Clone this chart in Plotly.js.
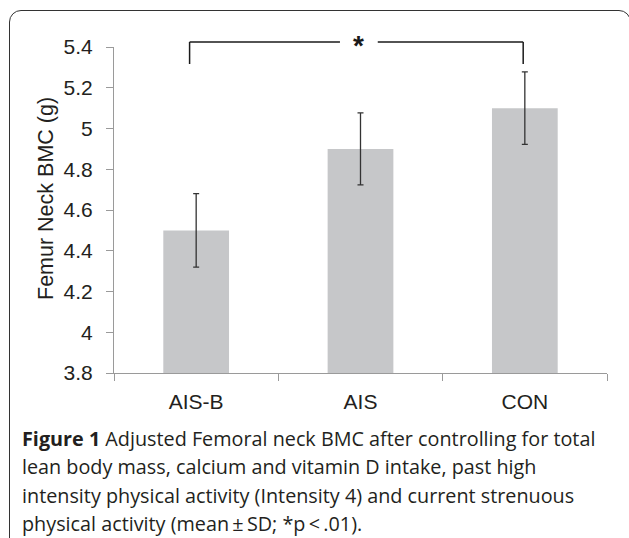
<!DOCTYPE html>
<html><head><meta charset="utf-8">
<script src="https://cdn.plot.ly/plotly-3.0.1.min.js"></script>
<style>
html,body{margin:0;padding:0;background:#fff;overflow:hidden;}
#wrap{position:relative;width:629px;height:538px;overflow:hidden;}
#chart{position:absolute;left:0;top:0;width:629px;height:538px;}
#frame{position:absolute;left:9px;top:10px;width:622px;height:560px;border:1.5px solid #333;border-radius:12px;pointer-events:none;box-sizing:border-box;}
</style></head><body>
<div id="wrap"><div id="chart"></div><div id="frame"></div></div>
<script>
// ---- data ----
const categories = ['AIS-B', 'AIS', 'CON'];
const means = [4.5, 4.9, 5.1];
const sds = [0.18, 0.177, 0.178];
const yTickVals = [3.8, 4, 4.2, 4.4, 4.6, 4.8, 5, 5.2, 5.4];
const yTickText = ['3.8', '4', '4.2', '4.4', '4.6', '4.8', '5', '5.2', '5.4'];
const bracketPair = [-0.04, 1.99];   // category index positions of bracket ends
const sigLabel = '*';
const yTitle = 'Femur Neck BMC (g)';
const captionLines = [
  '<b>Figure 1</b> Adjusted Femoral neck BMC after controlling for total',
  'lean body mass, calcium and vitamin D intake, past high',
  'intensity physical activity (Intensity 4) and current strenuous',
  'physical activity (mean\u2009±\u2009SD; *p\u2009&lt;\u2009.01).'
];

// ---- layout helpers ----
const W = 629, H = 538;
const M = {l: 114, r: 22, t: 47, b: 165};
const pw = W - M.l - M.r, ph = H - M.t - M.b;
const px = x => (x - M.l) / pw;
const py = y => (H - M.b - y) / ph;

const axFont = {family: 'Liberation Sans, Arial, sans-serif', size: 21, color: '#231f20'};
const capFont = {family: 'Open Sans, sans-serif', size: 19.8, color: '#231f20'};

const trace = {
  type: 'bar',
  x: categories,
  y: means,
  width: 0.4,
  marker: {color: '#c6c7c9', line: {width: 0}},
  error_y: {type: 'data', array: sds, visible: true, color: '#333333', thickness: 1.3, width: 3},
  hoverinfo: 'skip'
};

const bracketTop = py(42), bracketBot = py(64);
const starX = 0.99, gapHalf = 0.115;
const lineStyle = {color: '#1a1a1a', width: 1.5};
const shapes = [
  {type: 'line', xref: 'x', yref: 'paper', x0: bracketPair[0], x1: bracketPair[0], y0: bracketBot, y1: bracketTop, line: lineStyle},
  {type: 'line', xref: 'x', yref: 'paper', x0: bracketPair[0], x1: starX - gapHalf, y0: bracketTop, y1: bracketTop, line: lineStyle},
  {type: 'line', xref: 'x', yref: 'paper', x0: starX + gapHalf, x1: bracketPair[1], y0: bracketTop, y1: bracketTop, line: lineStyle},
  {type: 'line', xref: 'x', yref: 'paper', x0: bracketPair[1], x1: bracketPair[1], y0: bracketBot, y1: bracketTop, line: lineStyle}
];

const annotations = [
  {xref: 'x', yref: 'paper', x: starX, y: py(45), text: '<b>' + sigLabel + '</b>', showarrow: false,
   xanchor: 'center', yanchor: 'middle', font: {family: 'Liberation Sans, Arial, sans-serif', size: 28, color: '#1a1a1a'}},
  {xref: 'paper', yref: 'paper', x: px(46), y: py(199), text: yTitle, showarrow: false, textangle: -90,
   xanchor: 'center', yanchor: 'middle', font: {family: 'Liberation Sans, Arial, sans-serif', size: 21.5, color: '#231f20'}}
];
const capY = [438, 466.5, 495, 523.5];
captionLines.forEach((t, i) => annotations.push({
  xref: 'paper', yref: 'paper', x: px(20), y: py(capY[i]), text: t, showarrow: false,
  xanchor: 'left', yanchor: 'middle', align: 'left', font: capFont
}));

const layout = {
  width: W, height: H,
  margin: M,
  paper_bgcolor: '#ffffff', plot_bgcolor: '#ffffff',
  showlegend: false,
  bargap: 0.6,
  xaxis: {
    type: 'category', range: [-0.5, 2.5], tickson: 'boundaries',
    ticks: 'outside', ticklen: 7, tickcolor: '#9a9a9a', tickwidth: 1,
    showline: true, linecolor: '#9a9a9a', linewidth: 1,
    showgrid: false, zeroline: false, tickfont: axFont, ticklabelstandoff: 10,
    fixedrange: true
  },
  yaxis: {
    range: [3.8, 5.4], tickmode: 'array', tickvals: yTickVals, ticktext: yTickText,
    ticks: 'outside', ticklen: 7, tickcolor: '#9a9a9a', tickwidth: 1,
    showline: true, linecolor: '#9a9a9a', linewidth: 1,
    showgrid: false, zeroline: false, tickfont: axFont, ticklabelstandoff: 9,
    fixedrange: true
  },
  shapes: shapes,
  annotations: annotations
};

Plotly.newPlot('chart', [trace], layout, {displayModeBar: false, staticPlot: true});
</script>
</body></html>
